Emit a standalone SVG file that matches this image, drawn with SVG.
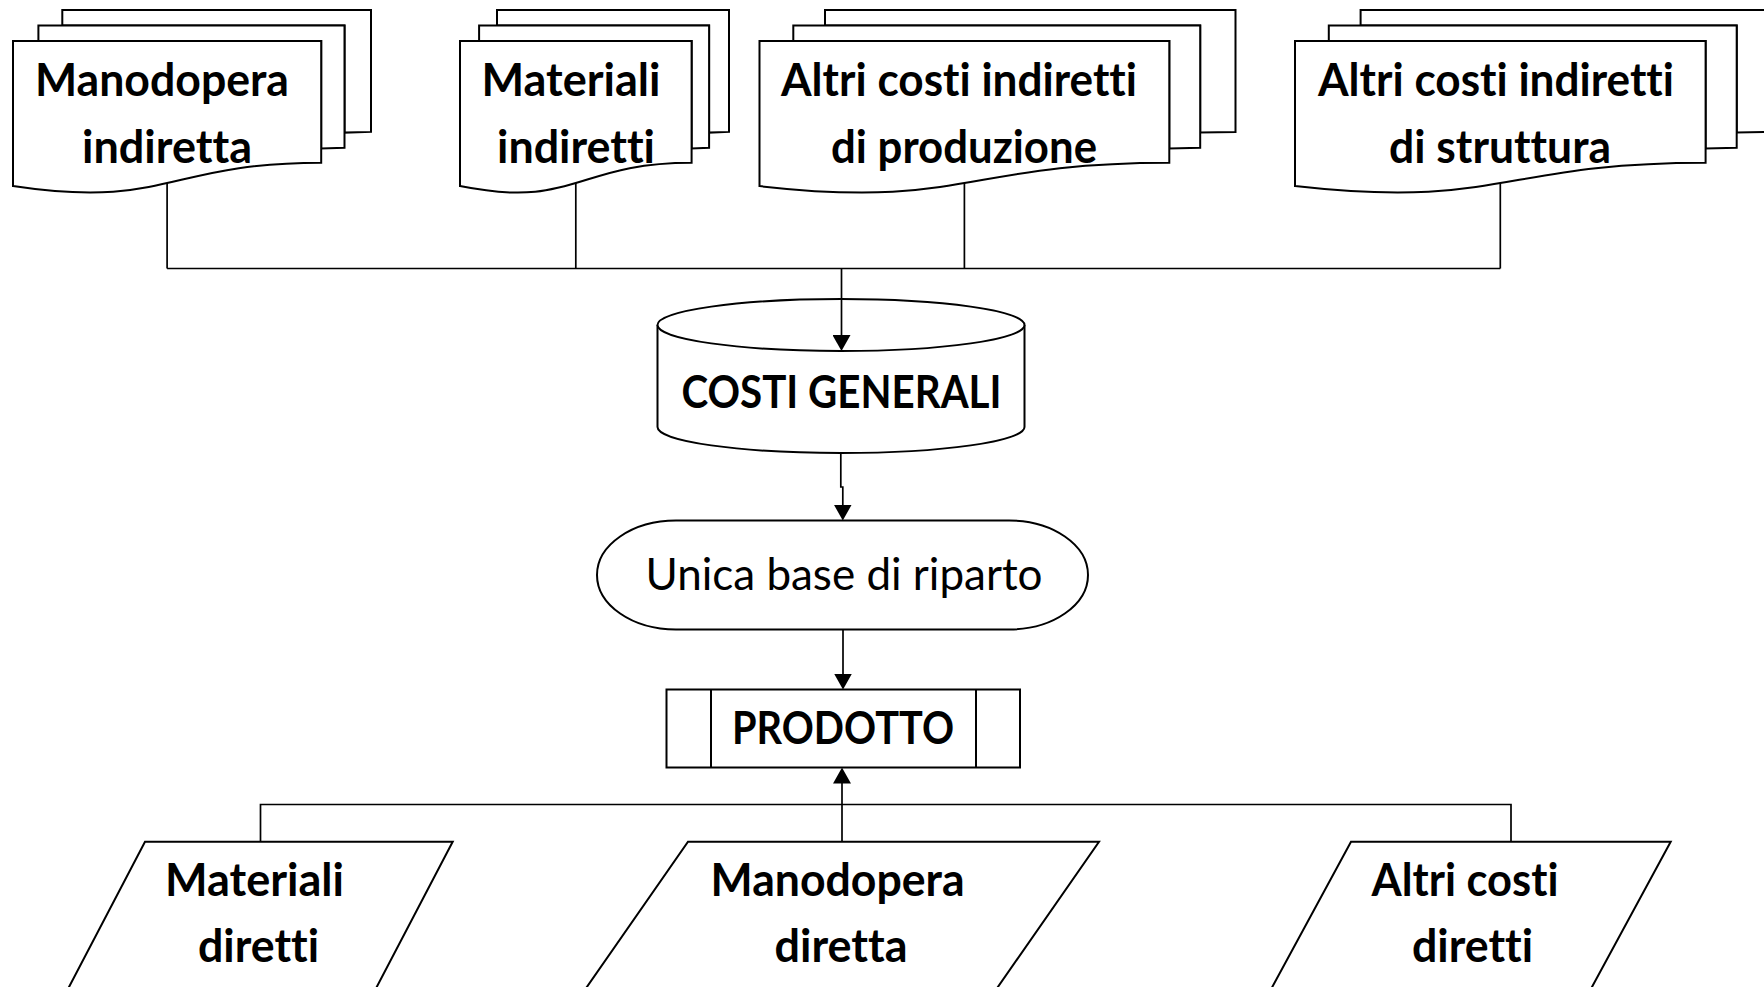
<svg xmlns="http://www.w3.org/2000/svg" width="1764" height="987" viewBox="0 0 1764 987">
<style>
.shape{fill:#fff;stroke:#000;stroke-width:2;stroke-linejoin:miter}
.conn{fill:none;stroke:#000;stroke-width:1.7}
.tb,.tr{font-family:Lato,"Liberation Sans",sans-serif;font-size:45px;text-anchor:middle;fill:#000;font-variant-ligatures:none;font-feature-settings:"liga" 0,"clig" 0}
.tb{font-weight:700}
.tr{font-weight:400}
</style>
<defs>
<marker id="arrow" viewBox="0 0 16 18" refX="8" refY="9" markerWidth="16" markerHeight="18" markerUnits="userSpaceOnUse" orient="auto">
<path d="M0,0 L16,9 L0,18 Z" fill="#000"/>
</marker>
</defs>
<rect width="1764" height="987" fill="#fff"/>

<g id="nodes">
<g id="doc-manodopera-indiretta">
<path class="shape" d="M62.3,25.4 V10 H371 V131.9 L344.5,132.6 V25.4 Z"/>
<path class="shape" d="M38.4,41.1 V25.4 H344.5 V147.7 L321.2,148.5 V41.1 Z"/>
<path class="shape" d="M13,41.1 H321.2 V162.7 C167.1,162.7 167.1,209.5 13,186.1 Z"/>
<text class="tb" x="162" y="96" textLength="254" lengthAdjust="spacingAndGlyphs">Manodopera</text>
<text class="tb" x="167" y="163" textLength="170" lengthAdjust="spacingAndGlyphs">indiretta</text>
</g>
<g id="doc-materiali-indiretti">
<path class="shape" d="M497,25.4 V10 H729 V131.9 L709.1,132.6 V25.4 Z"/>
<path class="shape" d="M479.1,41.1 V25.4 H709.1 V147.7 L691.6,148.5 V41.1 Z"/>
<path class="shape" d="M460,41.1 H691.6 V162.7 C575.8,162.7 575.8,209.5 460,186.1 Z"/>
<text class="tb" x="571" y="96" textLength="179" lengthAdjust="spacingAndGlyphs">Materiali</text>
<text class="tb" x="576" y="163" textLength="158" lengthAdjust="spacingAndGlyphs">indiretti</text>
</g>
<g id="doc-altri-costi-produzione">
<path class="shape" d="M825,25.4 V10 H1235.5 V131.9 L1200.2,132.6 V25.4 Z"/>
<path class="shape" d="M793.3,41.1 V25.4 H1200.2 V147.7 L1169.3,148.5 V41.1 Z"/>
<path class="shape" d="M759.5,41.1 H1169.3 V162.7 C964.4,162.7 964.4,209.5 759.5,186.1 Z"/>
<text class="tb" x="959" y="96" textLength="356" lengthAdjust="spacingAndGlyphs">Altri costi indiretti</text>
<text class="tb" x="964" y="163" textLength="266" lengthAdjust="spacingAndGlyphs">di produzione</text>
</g>
<g id="doc-altri-costi-struttura">
<path class="shape" d="M1360.6,25.4 V10 H1772 V131.9 L1736.7,132.6 V25.4 Z"/>
<path class="shape" d="M1328.8,41.1 V25.4 H1736.7 V147.7 L1705.6,148.5 V41.1 Z"/>
<path class="shape" d="M1295,41.1 H1705.6 V162.7 C1500.3,162.7 1500.3,209.5 1295,186.1 Z"/>
<text class="tb" x="1496" y="96" textLength="356" lengthAdjust="spacingAndGlyphs">Altri costi indiretti</text>
<text class="tb" x="1500" y="163" textLength="222" lengthAdjust="spacingAndGlyphs">di struttura</text>
</g>

<g id="costi-generali">
<path class="shape" d="M657.5,325 A183.5,26 0 0 1 1024.5,325 V427 A183.5,26 0 0 1 657.5,427 Z"/>
<path class="shape" fill="none" d="M657.5,325 A183.5,26 0 0 0 1024.5,325"/>
<text class="tb" x="841.5" y="408" textLength="320" lengthAdjust="spacingAndGlyphs">COSTI GENERALI</text>
</g>

<g id="unica-base">
<rect class="shape" x="597" y="520.5" width="491" height="109" rx="79" ry="54.5"/>
<text class="tr" x="844" y="590" textLength="397" lengthAdjust="spacingAndGlyphs">Unica base di riparto</text>
</g>

<g id="prodotto">
<rect class="shape" x="666.5" y="689.5" width="353.5" height="78"/>
<path class="shape" d="M711,689.5 V767.5 M976,689.5 V767.5"/>
<text class="tb" x="843" y="744" textLength="222" lengthAdjust="spacingAndGlyphs">PRODOTTO</text>
</g>

<g id="materiali-diretti">
<path class="shape" d="M145,841.7 H452.7 L369.9,1000 H62.2 Z"/>
<text class="tb" x="254.5" y="896" textLength="179" lengthAdjust="spacingAndGlyphs">Materiali</text>
<text class="tb" x="258.5" y="962" textLength="121" lengthAdjust="spacingAndGlyphs">diretti</text>
</g>
<g id="manodopera-diretta">
<path class="shape" d="M688,841.7 H1099 L988.8,1000 H577.8 Z"/>
<text class="tb" x="837.6" y="896" textLength="254" lengthAdjust="spacingAndGlyphs">Manodopera</text>
<text class="tb" x="841" y="962" textLength="133" lengthAdjust="spacingAndGlyphs">diretta</text>
</g>
<g id="altri-costi-diretti">
<path class="shape" d="M1351,841.7 H1670.7 L1584.9,1000 H1265.2 Z"/>
<text class="tb" x="1465" y="896" textLength="187" lengthAdjust="spacingAndGlyphs">Altri costi</text>
<text class="tb" x="1472.5" y="962" textLength="121" lengthAdjust="spacingAndGlyphs">diretti</text>
</g>
</g>

<g id="connectors">
<path class="conn" d="M167.1,183 V268.5 M575.8,183 V268.5 M964.4,183 V268.5 M1500.3,183 V268.5 M167.1,268.5 H1500.3"/>
<path class="conn" d="M841.5,268.5 V343" marker-end="url(#arrow)"/>
<path class="conn" d="M840.8,453 V487 H842.8 V512.5" marker-end="url(#arrow)"/>
<path class="conn" d="M843,629.5 V681.5" marker-end="url(#arrow)"/>
<path class="conn" d="M260.5,841.7 V804.5 H1511 V841.7"/>
<path class="conn" d="M842,841.7 V775.5" marker-end="url(#arrow)"/>
</g>
</svg>
